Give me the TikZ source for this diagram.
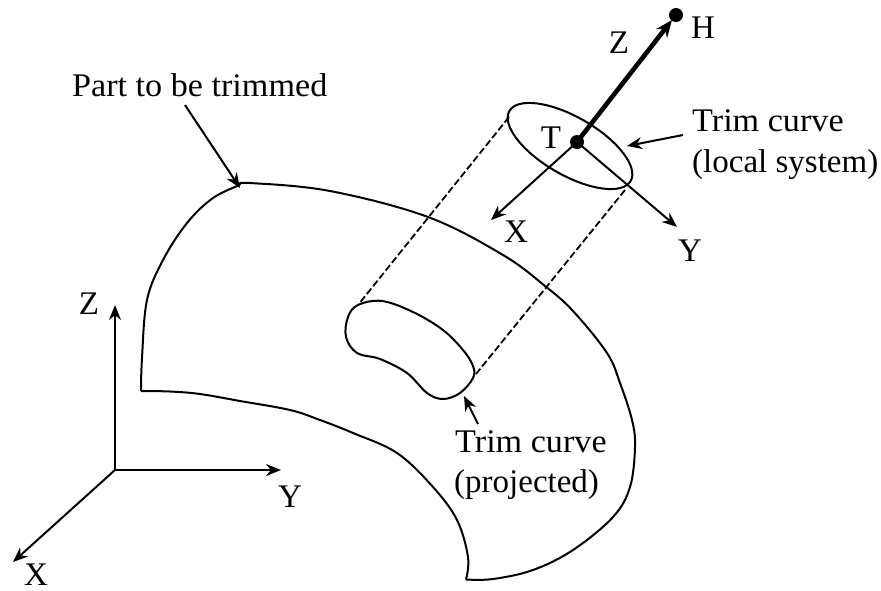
\documentclass[tikz,border=0pt]{standalone}
\usepackage{fontspec}
\setmainfont{Liberation Serif}
\newfontfamily\widefont[FakeStretch=1.035]{Liberation Serif}
\usetikzlibrary{arrows.meta}
\begin{document}
\begin{tikzpicture}[x=1pt,y=-1pt,
  lbl/.style={font=\widefont\fontsize{33}{39}\selectfont,inner sep=0pt,anchor=base west},
  lbln/.style={font=\fontsize{33}{39}\selectfont,inner sep=0pt,anchor=base west},
  ctr/.style={font=\fontsize{33}{39}\selectfont,inner sep=0pt,anchor=base},
  outline/.style={line width=2pt,line join=round},
  arrowline/.style={line width=2pt,-{Stealth[length=15pt,width=12pt]}},
  thickarrow/.style={line width=4.6pt,-{Stealth[length=17pt,width=14pt]}},
  dashline/.style={line width=1.8pt,dash pattern=on 7pt off 3pt},
  dot/.style={circle,fill=black,inner sep=0pt,minimum size=14pt}]
\useasboundingbox (0,0) rectangle (881,590);
% part outline
\draw[outline] plot[smooth,tension=0.6] coordinates {(141,391) (142,358) (147,300) (163,260) (187,223) (213,198) (240,185)};
\draw[outline] plot[smooth,tension=0.6] coordinates {(240,185) (250,183) (330,191) (428,217) (503,255) (545,286) (573,311) (607,353) (620,383) (632,420) (635,447) (630,487) (613,517) (573,550) (533,570) (493,579) (466,579.5)};
\draw[outline] plot[smooth,tension=0.6] coordinates {(466,579.5) (468,557) (457,520) (433,487) (397,453) (353,433) (320,420) (290,410) (240,401) (200,394) (170,391.5) (141,391)};
% projected curve
\draw[outline] plot[smooth cycle,tension=0.6] coordinates {(358,305) (382,301) (413,312) (443,330) (463,350) (473,366) (473,378) (460,393) (443,399) (427,393) (407,373) (380,359) (357,353) (346,337) (348,317)};
% local ellipse
\draw[outline,rotate around={-30:(570,146)}] (570,146) ellipse [x radius=70,y radius=29];
% coordinates
\coordinate (T) at (577,142);
\coordinate (H) at (676,15);
\coordinate (zend) at (672,20);
\coordinate (lx) at (491,220);
\coordinate (ly) at (677,227);
\coordinate (o) at (115,470);
\coordinate (gz) at (115,305);
\coordinate (gy) at (281,470);
\coordinate (gx) at (13,562);
\coordinate (d1a) at (509,117);
\coordinate (d1b) at (358,305);
\coordinate (d2a) at (625,190);
\coordinate (d2b) at (476,374);
\coordinate (l1a) at (185,105);
\coordinate (l1b) at (240,188);
\coordinate (l2a) at (683,135);
\coordinate (l2b) at (627,146);
\coordinate (l3a) at (478,424);
\coordinate (l3b) at (464,396);
% dashed
\draw[dashline] (d1a) -- (d1b);
\draw[dashline] (d2a) -- (d2b);
% axes
\draw[arrowline] (o) -- (gz);
\draw[arrowline] (o) -- (gy);
\draw[arrowline] (o) -- (gx);
\draw[arrowline] (T) -- (lx);
\draw[arrowline] (T) -- (ly);
\draw[thickarrow] (T) -- (zend);
\node[dot] (dT) at (T) {};
\node[dot] (dH) at (H) {};
% leaders
\draw[arrowline] (l1a) -- (l1b);
\draw[arrowline] (l2a) -- (l2b);
\draw[arrowline] (l3a) -- (l3b);
% labels
\node[lbl] (part) at (72,96) {Part to be trimmed};
\node[lbl] (tc1) at (692,131) {Trim curve};
\node[lbln] (tc2) at (692,172) {(local system)};
\node[lbl] (tp1) at (455,452) {Trim curve};
\node[lbln] (tp2) at (454,492) {(projected)};
\node[ctr] (lblH) at (703,38) {H};
\node[ctr] (lblZl) at (619,53) {Z};
\node[ctr] (lblT) at (551,148) {T};
\node[ctr] (lblXl) at (516,242) {X};
\node[ctr] (lblYl) at (690,261) {Y};
\node[ctr] (lblZ) at (89,314) {Z};
\node[ctr] (lblY) at (290,507) {Y};
\node[ctr] (lblX) at (36,585) {X};
\end{tikzpicture}
\end{document}
